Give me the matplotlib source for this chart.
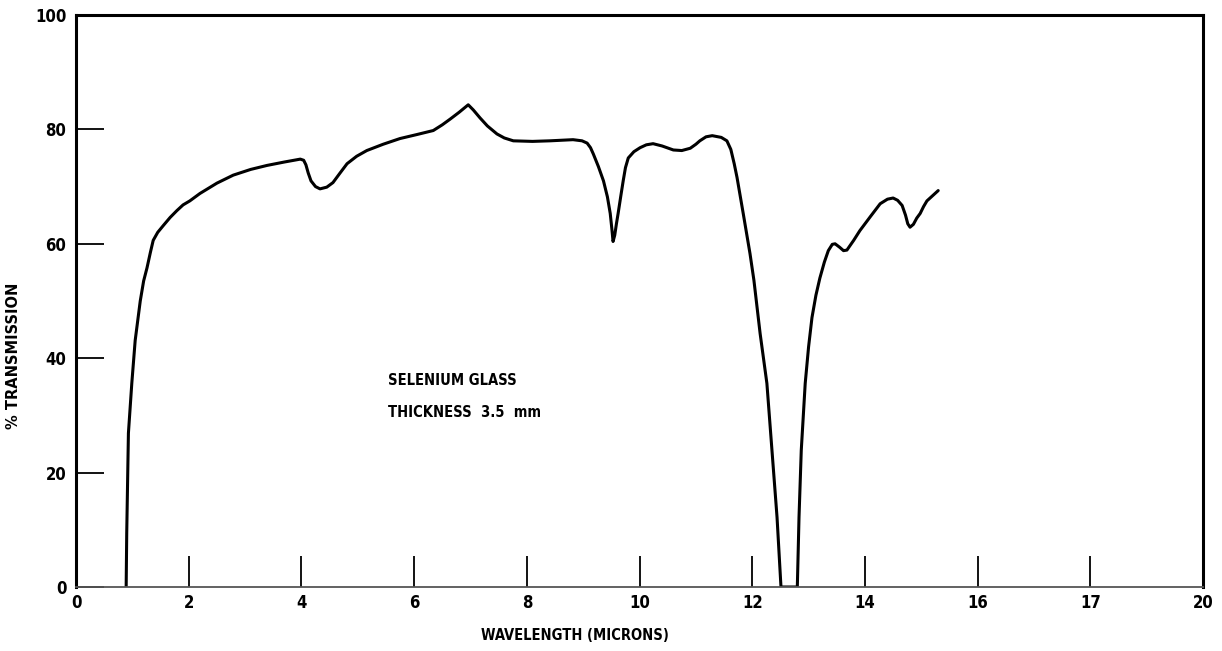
import numpy as np
import matplotlib.pyplot as plt
from matplotlib import rcParams

rcParams['font.family'] = ['DejaVu Sans']
rcParams['font.weight'] = 'bold'
rcParams['font.stretch'] = 'condensed'

# transmission curve (wavelength in microns, % transmission)
wavelength = [0.89, 0.90, 0.93, 0.99, 1.05, 1.14, 1.20, 1.26, 1.32, 1.37, 1.45,
              1.55, 1.67, 1.79, 1.90, 2.02, 2.20, 2.50, 2.79, 3.10, 3.39, 3.70,
              3.98, 4.04, 4.08, 4.12, 4.17, 4.25, 4.33, 4.45, 4.56, 4.68, 4.81,
              4.98, 5.16, 5.45, 5.75, 6.05, 6.34, 6.50, 6.64, 6.80, 6.96, 7.05,
              7.17, 7.30, 7.47, 7.60, 7.76, 8.10, 8.41, 8.82, 8.98, 9.07, 9.13,
              9.18, 9.27, 9.36, 9.43, 9.48, 9.51, 9.53, 9.56, 9.59, 9.62, 9.67,
              9.71, 9.75, 9.80, 9.90, 10.01, 10.12, 10.24, 10.40, 10.60, 10.75,
              10.90, 11.00, 11.07, 11.18, 11.29, 11.45, 11.55, 11.62, 11.68,
              11.73, 11.84, 11.96, 12.03, 12.14, 12.26, 12.35, 12.44, 12.51,
              12.80, 12.83, 12.87, 12.94, 13.00, 13.06, 13.13, 13.20, 13.28,
              13.35, 13.42, 13.47, 13.55, 13.62, 13.68, 13.80, 13.91, 14.10,
              14.27, 14.40, 14.50, 14.58, 14.66, 14.72, 14.76, 14.80, 14.86,
              14.92, 14.98, 15.04, 15.10, 15.20, 15.30]
transmission = [0.0, 9.4, 26.9, 35.6, 43.1, 50.0, 53.5, 55.8, 58.5, 60.6, 62.0,
                63.2, 64.6, 65.8, 66.8, 67.5, 68.8, 70.6, 72.0, 73.0, 73.7, 74.3,
                74.8, 74.6, 73.8, 72.4, 71.0, 70.0, 69.6, 69.9, 70.7, 72.3, 74.0,
                75.3, 76.3, 77.4, 78.4, 79.1, 79.8, 80.8, 81.8, 83.0, 84.3, 83.4,
                82.0, 80.6, 79.2, 78.5, 78.0, 77.9, 78.0, 78.2, 78.0, 77.6, 76.8,
                75.7, 73.5, 71.0, 68.2, 65.3, 62.5, 60.4, 61.5, 63.5, 65.3, 68.5,
                71.0, 73.3, 75.0, 76.1, 76.8, 77.3, 77.5, 77.1, 76.4, 76.3,
                76.7, 77.4, 78.0, 78.7, 78.9, 78.6, 78.0, 76.5, 74.0,
                71.6, 65.3, 58.3, 53.6, 44.3, 35.6, 23.9, 12.2, 0.0,
                0.0, 12.2, 23.9, 35.6, 42.0, 47.1, 51.0, 54.0, 56.8,
                58.8, 59.9, 60.0, 59.4, 58.8, 58.9, 60.6, 62.3, 64.8,
                67.0, 67.8, 68.0, 67.6, 66.7, 65.0, 63.5, 62.9, 63.4,
                64.5, 65.3, 66.5, 67.5, 68.4, 69.3]

xtick_pos = [0, 2, 4, 6, 8, 10, 12, 14, 16, 18, 20]
xtick_lab = ['0', '2', '4', '6', '8', '10', '12', '14', '16', '17', '20']
ytick_pos = [0, 20, 40, 60, 80, 100]

fig = plt.figure(figsize=(12.22, 6.51), dpi=100)
ax = fig.add_axes([0.0622, 0.0983, 0.9223, 0.8787])

ax.plot(wavelength, transmission, color='black', linewidth=2.2,
        solid_joinstyle='round', solid_capstyle='round')

ax.set_xlim(0, 20)
ax.set_ylim(0, 100)

ax.set_xticks(xtick_pos)
ax.set_xticklabels(xtick_lab)
ax.set_yticks(ytick_pos)
ax.tick_params(axis='x', direction='in', length=22, width=1.3, pad=5,
               labelsize=12)
ax.tick_params(axis='y', direction='in', length=20, width=1.3, pad=7,
               labelsize=12)

for side in ['left', 'top', 'right']:
    ax.spines[side].set_linewidth(2.2)
ax.spines['bottom'].set_linewidth(1.3)
ax.spines['bottom'].set_color('#555555')

ax.set_xlabel('WAVELENGTH (MICRONS)', fontsize=10.5, fontweight='bold')
ax.xaxis.set_label_coords(0.443, -0.072)
ax.set_ylabel('% TRANSMISSION', fontsize=10.5, fontweight='bold',
              fontstretch='normal')
ax.yaxis.set_label_coords(-0.049, 0.405)

ax.text(5.54, 36.1, 'SELENIUM GLASS', fontsize=10.5, va='center', ha='left')
ax.text(5.54, 30.5, 'THICKNESS  3.5  mm', fontsize=10.5, va='center', ha='left')

plt.savefig('out.png', dpi=100)
